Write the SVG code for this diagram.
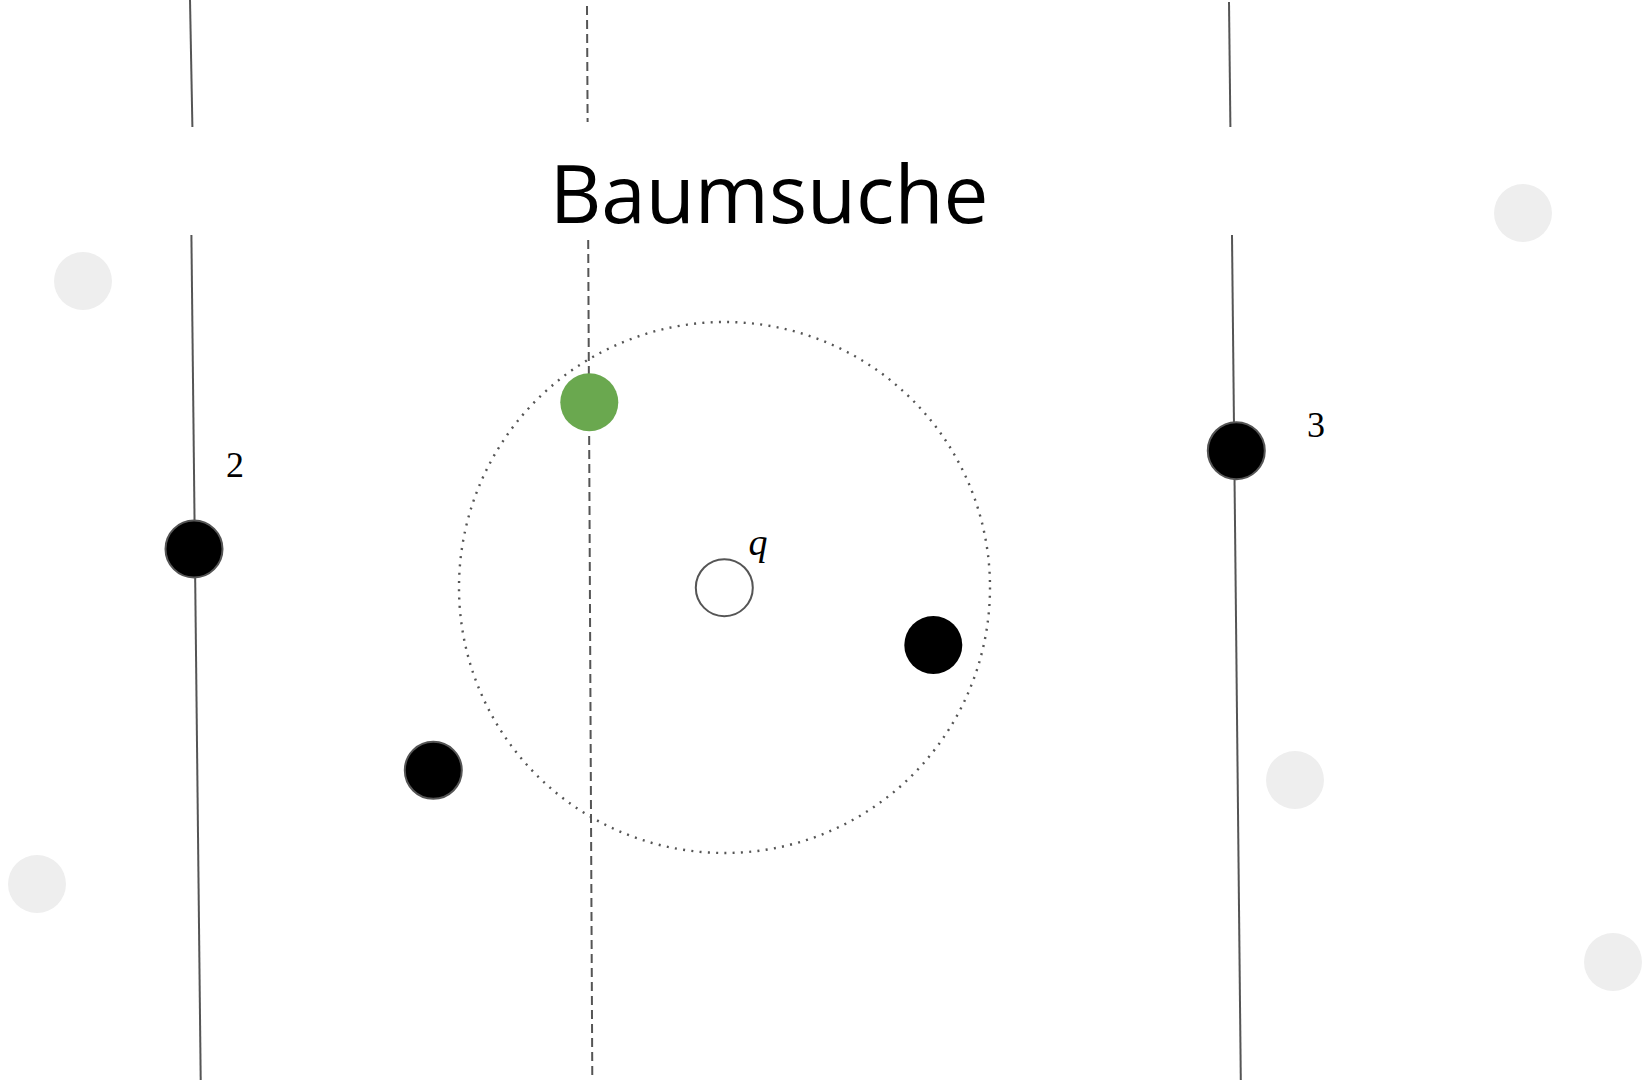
<svg xmlns="http://www.w3.org/2000/svg" width="1648" height="1080" viewBox="0 0 1648 1080">
<style>
.split{stroke:#555;stroke-width:2;fill:none}
.dash{stroke:#555;stroke-width:2;fill:none;stroke-dasharray:9 5}
.pt{fill:#000;stroke:#555;stroke-width:2}
.ghost{fill:#eee}
.lbl{font-family:"Liberation Serif",serif;font-size:36px;fill:#000}
</style>
<rect width="1648" height="1080" fill="#fff"/>
<g id="connectors">
<line class="split" x1="190" y1="0" x2="192.4" y2="127"/>
<line class="split" x1="191.4" y1="235" x2="200.7" y2="1080"/>
<line class="dash" x1="587" y1="6" x2="587.6" y2="122"/>
<line class="dash" x1="588.2" y1="240" x2="592.3" y2="1080"/>
<line class="split" x1="1229" y1="2" x2="1230.4" y2="127"/>
<line class="split" x1="1232" y1="235" x2="1240.8" y2="1080"/>
<circle id="range" cx="724.5" cy="587.5" r="265.5" fill="none" stroke="#555" stroke-width="2.4" stroke-dasharray="2 6.3"/>
</g>
<text id="title" x="769" y="223" text-anchor="middle" font-family="Open Sans, sans-serif" font-size="80" fill="#000">Baumsuche</text>
<g id="ghost1"><circle class="ghost" cx="83" cy="281" r="29"/></g>
<g id="ghost2"><circle class="ghost" cx="1523" cy="213" r="29"/></g>
<g id="ghost3"><circle class="ghost" cx="1295" cy="780" r="29"/></g>
<g id="ghost4"><circle class="ghost" cx="37" cy="884" r="29"/></g>
<g id="ghost5"><circle class="ghost" cx="1613" cy="962" r="29"/></g>
<g id="node2"><circle class="pt" cx="194" cy="549" r="28.5"/><text class="lbl" x="235" y="477" text-anchor="middle">2</text></g>
<g id="node3"><circle class="pt" cx="1236.3" cy="450.7" r="28.5"/><text class="lbl" x="1316" y="437" text-anchor="middle">3</text></g>
<g id="nodeA"><circle class="pt" cx="433.3" cy="770.3" r="28.5"/></g>
<g id="nodeB"><circle cx="933.3" cy="645" r="29" fill="#000"/></g>
<g id="nearest"><circle cx="589.3" cy="402.3" r="29" fill="#6aa84f"/></g>
<g id="query"><circle cx="724.3" cy="587.7" r="28.5" fill="#fff" stroke="#555" stroke-width="2"/><text x="758" y="555" font-family="Liberation Serif, serif" font-style="italic" font-size="38" fill="#000" text-anchor="middle">q</text></g>
</svg>
